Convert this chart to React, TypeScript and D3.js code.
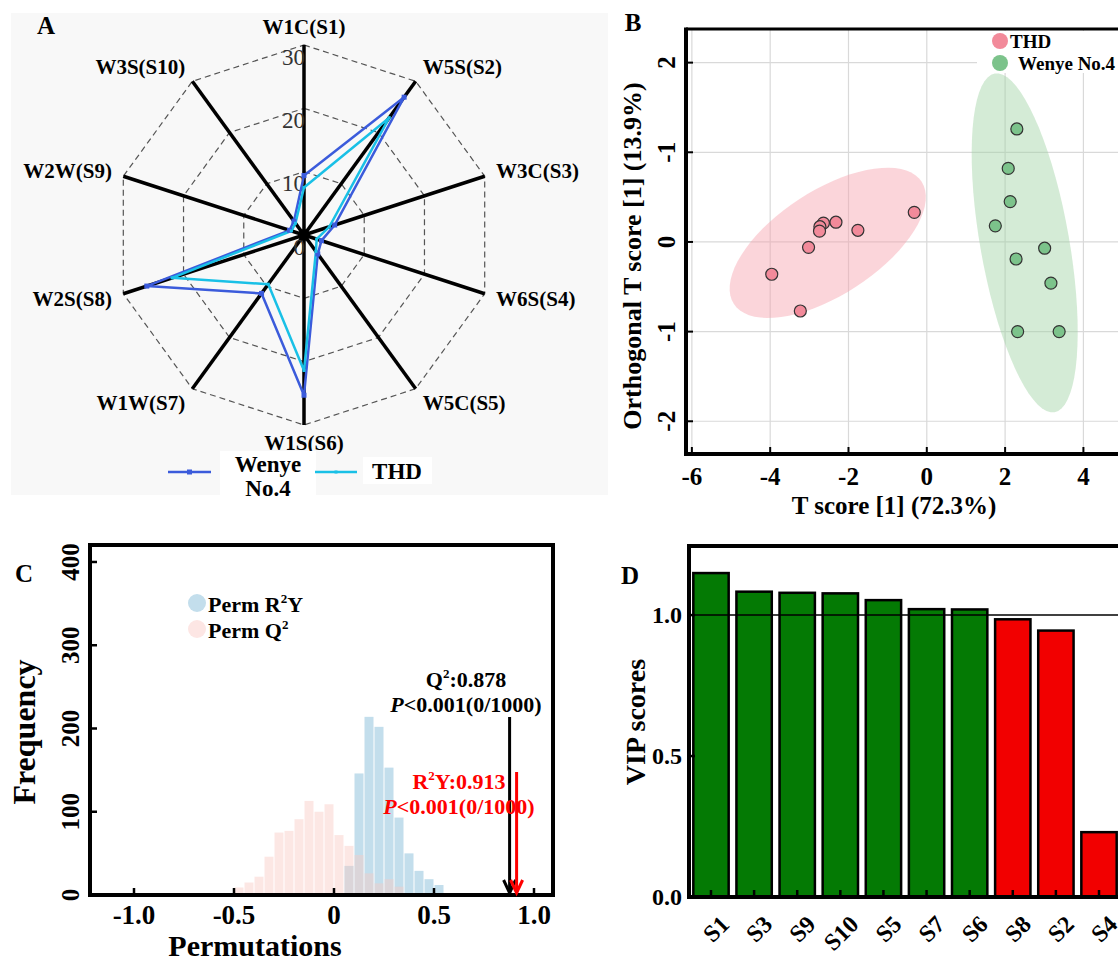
import React from "react";
import * as d3 from "d3";

const FONT = "'Liberation Serif', 'Times New Roman', serif";

// ---------- Panel A: e-nose radar ----------
const sensorLabels = ["W1C(S1)", "W5S(S2)", "W3C(S3)", "W6S(S4)", "W5C(S5)", "W1S(S6)", "W1W(S7)", "W2S(S8)", "W2W(S9)", "W3S(S10)"];
const wenyeRadar = [9.4, 26.9, 5.1, 2.9, 3.7, 25.3, 11.4, 26.1, 2.4, 2.7];
const thdRadar = [7.5, 22.9, 4.2, 2.1, 3.2, 21.4, 9.6, 21.9, 2.1, 2.3];
const radarTicks = [0, 10, 20, 30];

// ---------- Panel B: OPLS-DA scores ----------
const thdScoreX = [-0.32, -2.32, -1.76, -2.64, -2.73, -2.74, -3.02, -3.96, -3.23];
const thdScoreY = [0.33, 0.22, 0.13, 0.21, 0.17, 0.12, -0.06, -0.36, -0.77];
const wenyeScoreX = [2.3, 2.08, 2.13, 1.75, 3.01, 2.28, 3.17, 2.32, 3.38];
const wenyeScoreY = [1.26, 0.82, 0.45, 0.18, -0.07, -0.19, -0.46, -1.0, -1.0];
const scoreXTicks = [-6, -4, -2, 0, 2, 4];
const scoreYTicks = [2, 1, 0, -1, -2];
const scoreYTickLabels = ["2", "-1", "0", "-1", "-2"];
// confidence ellipses: centre x, centre y, semi-axis 1 (dx, dy), semi-axis 2 (dx, dy)
const thdEllipse = [-2.53, -0.01, 2.4, 0.68, 0.72, -0.49];
const wenyeEllipse = [2.5, -0.01, 0.763, -1.889, 1.119, 0.086];

// ---------- Panel C: permutation test ----------
const q2BinStarts = [-0.5, -0.45, -0.4, -0.35, -0.3, -0.25, -0.2, -0.15, -0.1, -0.05, 0, 0.05, 0.1, 0.15, 0.2, 0.25, 0.3];
const q2Counts = [9, 15, 22, 46, 75, 77, 91, 113, 100, 109, 72, 59, 48, 26, 14, 19, 10];
const r2yBinStarts = [0.05, 0.1, 0.15, 0.2, 0.25, 0.3, 0.35, 0.4, 0.45, 0.5];
const r2yCounts = [35, 146, 214, 202, 153, 93, 50, 29, 19, 12];
const binWidth = 0.05;
const permXTicks = [-1, -0.5, 0, 0.5, 1];
const permXTickLabels = ["-1.0", "-0.5", "0", "0.5", "1.0"];
const permYTicks = [0, 100, 200, 300, 400];
const q2Observed = 0.878;
const r2yObserved = 0.913;

// ---------- Panel D: VIP ----------
const vipSensors = ["S1", "S3", "S9", "S10", "S5", "S7", "S6", "S8", "S2", "S4"];
const vipScores = [1.149, 1.083, 1.079, 1.077, 1.053, 1.021, 1.02, 0.985, 0.945, 0.23];
const vipTicks = [0, 0.5, 1.0];

const BLUE = "#3b5bdb";
const CYAN = "#19c0e6";

function Radar() {
  const cx = 304, cy = 235;
  const r = d3.scaleLinear().domain([0, 30]).range([0, 190]);
  const ang = (i: number) => (i * 2 * Math.PI) / sensorLabels.length;
  const line = d3.lineRadial<number>().angle((_, i) => ang(i)).radius((d) => r(d)).curve(d3.curveLinearClosed);
  return (
    <g>
      <rect x={11} y={13} width={597} height={482} fill="#f8f8f8" />
      <text x={46} y={25} fontSize={25} fontWeight="bold" dominantBaseline="central" textAnchor="middle">A</text>
      <g transform={`translate(${cx},${cy})`}>
        {radarTicks.slice(1).map((t) => (
          <path key={t} d={line(sensorLabels.map(() => t)) || ""} fill="none" stroke="#555" strokeWidth={1.2} strokeDasharray="6,4" />
        ))}
        {sensorLabels.map((s, i) => {
          const [x, y] = d3.pointRadial(ang(i), r(30));
          return <line key={s} x1={0} y1={0} x2={x} y2={y} stroke="#000" strokeWidth={3.5} />;
        })}
        <circle r={6} fill="#000" />
        {radarTicks.map((t) => (
          <text key={t} x={1} y={-r(t) + 12} textAnchor="end" dominantBaseline="central" fontSize={23} fill="#333">{t}</text>
        ))}
        <path d={line(wenyeRadar) || ""} fill="none" stroke={BLUE} strokeWidth={2.5} />
        <path d={line(thdRadar) || ""} fill="none" stroke={CYAN} strokeWidth={2.5} />
        {wenyeRadar.map((v, i) => {
          const [x, y] = d3.pointRadial(ang(i), r(v));
          return <rect key={i} x={x - 2.5} y={y - 2.5} width={5} height={5} fill={BLUE} />;
        })}
        {thdRadar.map((v, i) => {
          const [x, y] = d3.pointRadial(ang(i), r(v));
          return <rect key={i} x={x - 1.5} y={y - 1.5} width={3} height={3} fill={CYAN} />;
        })}
        {sensorLabels.map((s, i) => {
          const a = ang(i);
          const [x, y] = d3.pointRadial(a, r(30));
          const sn = Math.sin(a);
          const anchor = sn > 0.1 ? "start" : sn < -0.1 ? "end" : "middle";
          return (
            <text key={s} x={x + sn * 12} y={y - Math.cos(a) * 18} textAnchor={anchor} dominantBaseline="central" fontSize={21} fontWeight="bold">{s}</text>
          );
        })}
      </g>
      {/* legend */}
      <line x1={168} y1={472} x2={211} y2={472} stroke={BLUE} strokeWidth={2.5} />
      <rect x={187} y={469.5} width={5} height={5} fill={BLUE} />
      <rect x={220} y={451} width={96} height={44} fill="#fff" />
      <text x={268} y={464} textAnchor="middle" dominantBaseline="central" fontSize={23} fontWeight="bold">Wenye</text>
      <text x={268} y={488} textAnchor="middle" dominantBaseline="central" fontSize={23} fontWeight="bold">No.4</text>
      <line x1={315} y1={472} x2={357} y2={472} stroke={CYAN} strokeWidth={2.5} />
      <rect x={334.5} y={470.5} width={3} height={3} fill={CYAN} />
      <rect x={363} y={457} width={69} height={27} fill="#fff" />
      <text x={397} y={471} textAnchor="middle" dominantBaseline="central" fontSize={23} fontWeight="bold">THD</text>
    </g>
  );
}

function Scores() {
  const x = d3.scaleLinear().domain([-6.15, 5.2]).range([686, 1130.4]);
  const y = d3.scaleLinear().domain([-2.365, 2.375]).range([454, 29]);
  const ellipse = (e: number[]) => {
    const pts = d3.range(0, 73).map((k) => {
      const t = (k / 72) * 2 * Math.PI;
      return [x(e[0] + e[2] * Math.cos(t) + e[4] * Math.sin(t)), y(e[1] + e[3] * Math.cos(t) + e[5] * Math.sin(t))] as [number, number];
    });
    return d3.line().curve(d3.curveLinearClosed)(pts) || "";
  };
  return (
    <g>
      <text x={633} y={22} fontSize={25} fontWeight="bold" dominantBaseline="central" textAnchor="middle">B</text>
      {scoreXTicks.map((t) => (
        <line key={t} x1={x(t)} x2={x(t)} y1={29} y2={454} stroke="#d9d9d9" strokeWidth={1.2} />
      ))}
      {scoreYTicks.map((t) => (
        <line key={t} x1={686} x2={1118} y1={y(t)} y2={y(t)} stroke="#d9d9d9" strokeWidth={1.2} />
      ))}
      <path d={ellipse(thdEllipse)} fill="#f7a1ae" fillOpacity={0.45} />
      <path d={ellipse(wenyeEllipse)} fill="#9fd3a5" fillOpacity={0.45} />
      {thdScoreX.map((v, i) => (
        <circle key={"t" + i} cx={x(v)} cy={y(thdScoreY[i])} r={6} fill="#f28a9a" stroke="#333" strokeWidth={1.2} />
      ))}
      {wenyeScoreX.map((v, i) => (
        <circle key={"w" + i} cx={x(v)} cy={y(wenyeScoreY[i])} r={6} fill="#7cc38b" stroke="#333" strokeWidth={1.2} />
      ))}
      {/* legend */}
      <rect x={977} y={31} width={141} height={42} fill="#fff" />
      <circle cx={1000} cy={41} r={8} fill="#f28a9a" />
      <text x={1010} y={41} fontSize={19} fontWeight="bold" dominantBaseline="central">THD</text>
      <circle cx={1000} cy={63} r={8} fill="#7cc38b" />
      <text x={1018} y={63} fontSize={19} fontWeight="bold" dominantBaseline="central">Wenye No.4</text>
      {/* frame */}
      <line x1={686} x2={1118} y1={29} y2={29} stroke="#000" strokeWidth={3} />
      <line x1={686} x2={686} y1={27.5} y2={456} stroke="#000" strokeWidth={4} />
      <line x1={684} x2={1118} y1={454} y2={454} stroke="#000" strokeWidth={4} />
      {scoreXTicks.map((t) => (
        <g key={t}>
          <line x1={x(t)} x2={x(t)} y1={454} y2={447} stroke="#000" strokeWidth={2} />
          <text x={x(t)} y={476} textAnchor="middle" dominantBaseline="central" fontSize={25} fontWeight="bold">{t}</text>
        </g>
      ))}
      {scoreYTicks.map((t, i) => (
        <g key={t}>
          <line x1={686} x2={693} y1={y(t)} y2={y(t)} stroke="#000" strokeWidth={2} />
          <text transform={`translate(666,${y(t)}) rotate(-90)`} textAnchor="middle" dominantBaseline="central" fontSize={25} fontWeight="bold">{scoreYTickLabels[i]}</text>
        </g>
      ))}
      <text x={894} y={505} textAnchor="middle" dominantBaseline="central" fontSize={25} fontWeight="bold">T score [1] (72.3%)</text>
      <text transform="translate(632,256) rotate(-90)" textAnchor="middle" dominantBaseline="central" fontSize={26} fontWeight="bold">Orthogonal T score [1] (13.9%)</text>
    </g>
  );
}

function Permutation() {
  const x = d3.scaleLinear().domain([-1.22, 1.095]).range([90, 553]);
  const y = d3.scaleLinear().domain([0, 420.4]).range([895, 545]);
  const arrow = (v: number, top: number, color: string) => (
    <g>
      <line x1={x(v)} x2={x(v)} y1={top} y2={893} stroke={color} strokeWidth={3} />
      <polyline points={`${x(v) - 6},${880} ${x(v)},${893} ${x(v) + 6},${880}`} fill="none" stroke={color} strokeWidth={3} />
    </g>
  );
  return (
    <g>
      <text x={24} y={573} fontSize={25} fontWeight="bold" dominantBaseline="central" textAnchor="middle">C</text>
      {r2yBinStarts.map((b, i) => (
        <rect key={"r" + i} x={x(b) + 0.5} width={x(b + binWidth) - x(b) - 1} y={y(r2yCounts[i])} height={y(0) - y(r2yCounts[i])} fill="#c3deec" />
      ))}
      {q2BinStarts.map((b, i) => (
        <rect key={"q" + i} x={x(b) + 0.5} width={x(b + binWidth) - x(b) - 1} y={y(q2Counts[i])} height={y(0) - y(q2Counts[i])} fill="#f9c9c4" fillOpacity={0.45} />
      ))}
      <rect x={90} y={545} width={463} height={350} fill="none" stroke="#000" strokeWidth={4} />
      {permXTicks.map((t, i) => (
        <g key={t}>
          <line x1={x(t)} x2={x(t)} y1={895} y2={888} stroke="#000" strokeWidth={2.5} />
          <text x={x(t)} y={915} textAnchor="middle" dominantBaseline="central" fontSize={27} fontWeight="bold">{permXTickLabels[i]}</text>
        </g>
      ))}
      {permYTicks.map((t) => (
        <g key={t}>
          <line x1={90} x2={97} y1={y(t)} y2={y(t)} stroke="#000" strokeWidth={2.5} />
          <text transform={`translate(70,${y(t)}) rotate(-90)`} textAnchor="middle" dominantBaseline="central" fontSize={25} fontWeight="bold">{t}</text>
        </g>
      ))}
      <circle cx={197} cy={603} r={9} fill="#c3deec" />
      <text x={208} y={604} fontSize={22} fontWeight="bold" dominantBaseline="central">Perm R<tspan dy={-6} fontSize={13}>2</tspan><tspan dy={6}>Y</tspan></text>
      <circle cx={197} cy={629} r={9} fill="#fde6e4" />
      <text x={208} y={630} fontSize={22} fontWeight="bold" dominantBaseline="central">Perm Q<tspan dy={-6} fontSize={13}>2</tspan></text>
      {arrow(q2Observed, 717, "#000")}
      {arrow(r2yObserved, 772, "#f00")}
      <text x={466} y={679} textAnchor="middle" dominantBaseline="central" fontSize={22} fontWeight="bold">Q<tspan dy={-6} fontSize={13}>2</tspan><tspan dy={6}>:{q2Observed}</tspan></text>
      <text x={466} y={704} textAnchor="middle" dominantBaseline="central" fontSize={22} fontWeight="bold"><tspan fontStyle="italic">P</tspan>&lt;0.001(0/1000)</text>
      <text x={459} y={781} textAnchor="middle" dominantBaseline="central" fontSize={22} fontWeight="bold" fill="#f00">R<tspan dy={-6} fontSize={13}>2</tspan><tspan dy={6}>Y:{r2yObserved}</tspan></text>
      <text x={459} y={806} textAnchor="middle" dominantBaseline="central" fontSize={22} fontWeight="bold" fill="#f00"><tspan fontStyle="italic">P</tspan>&lt;0.001(0/1000)</text>
      <text x={255} y={945} textAnchor="middle" dominantBaseline="central" fontSize={30} fontWeight="bold">Permutations</text>
      <text transform="translate(24,732) rotate(-90)" textAnchor="middle" dominantBaseline="central" fontSize={32} fontWeight="bold">Frequency</text>
    </g>
  );
}

function Vip() {
  const x = d3.scaleBand().domain(vipSensors).range([689, 1121]).paddingInner(0.18).paddingOuter(0.1);
  const y = d3.scaleLinear().domain([0, 1.245]).range([897, 546]);
  return (
    <g>
      <text x={630} y={575} fontSize={25} fontWeight="bold" dominantBaseline="central" textAnchor="middle">D</text>
      {vipSensors.map((s, i) => (
        <rect key={s} x={x(s)} y={y(vipScores[i])} width={x.bandwidth()} height={y(0) - y(vipScores[i])} fill={vipScores[i] > 1 ? "#047a04" : "#f20000"} stroke="#000" strokeWidth={2.5} />
      ))}
      <line x1={689} x2={1118} y1={y(1)} y2={y(1)} stroke="#000" strokeWidth={1.5} />
      <line x1={689} x2={1118} y1={546} y2={546} stroke="#000" strokeWidth={4} />
      <line x1={689} x2={689} y1={544} y2={899} stroke="#000" strokeWidth={4} />
      <line x1={687} x2={1118} y1={897} y2={897} stroke="#000" strokeWidth={4} />
      {vipTicks.map((t) => (
        <g key={t}>
          <line x1={689} x2={695} y1={y(t)} y2={y(t)} stroke="#000" strokeWidth={2.5} />
          <text x={682} y={y(t)} textAnchor="end" dominantBaseline="central" fontSize={24} fontWeight="bold">{t.toFixed(1)}</text>
        </g>
      ))}
      {vipSensors.map((s) => {
        const c = (x(s) || 0) + x.bandwidth() / 2;
        return (
          <g key={s}>
            <line x1={c} x2={c} y1={897} y2={890} stroke="#000" strokeWidth={2.5} />
            <text transform={`translate(${c + 14},${920}) rotate(-45)`} textAnchor="end" dominantBaseline="central" fontSize={24} fontWeight="bold">{s}</text>
          </g>
        );
      })}
      <text transform="translate(635,722) rotate(-90)" textAnchor="middle" dominantBaseline="central" fontSize={28} fontWeight="bold">VIP scores</text>
    </g>
  );
}

export default function App() {
  return (
    <div>
      <style>{"body{margin:0}"}</style>
      <svg width={1118} height={960} style={{ display: "block", fontFamily: FONT, background: "#fff" }}>
        <Radar />
        <Scores />
        <Permutation />
        <Vip />
      </svg>
    </div>
  );
}
